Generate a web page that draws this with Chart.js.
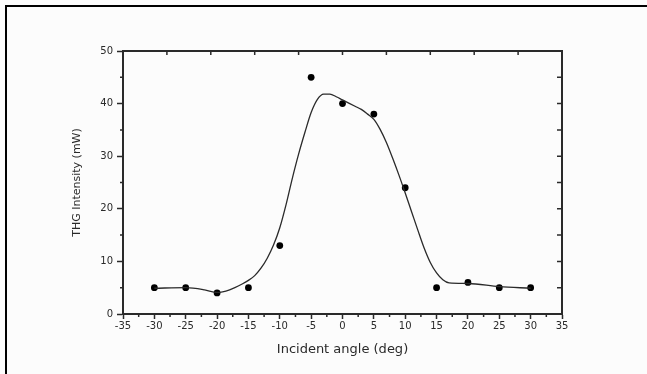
<!DOCTYPE html>
<html>
<head>
<meta charset="utf-8">
<script src="https://cdn.jsdelivr.net/npm/chart.js@4.4.0/dist/chart.umd.min.js"></script>
<style>
  html, body { margin: 0; padding: 0; background: #fcfcfc; }
  #wrap { position: relative; width: 647px; height: 374px; overflow: hidden; }
  #frame { position: absolute; left: 5px; top: 5px; width: 700px; height: 400px;
           border-top: 2px solid #000; border-left: 2px solid #000; pointer-events: none; }
</style>
</head>
<body>
<div id="wrap">
  <canvas id="thgChart" width="647" height="374"></canvas>
  <div id="frame"></div>
</div>
<script>
// measured points
const angles = [-30, -25, -20, -15, -10, -5, 0, 5, 10, 15, 20, 25, 30];
const intensity = [5, 5, 4, 5, 13, 45, 40, 38, 24, 5, 6, 5, 5];

// fitted curve
const fitAngles = [-30, -25, -22, -20, -18, -16, -15, -14, -13, -12, -11, -10, -9, -8, -7, -6, -5, -4, -3, -2, -1, 0, 1, 2, 3, 4, 5, 6, 7, 8, 9, 10, 11, 12, 13, 14, 15, 16, 17, 20, 25, 30];
const fitIntensity = [4.9, 5.0, 4.6, 4.1, 4.6, 5.7, 6.4, 7.3, 8.7, 10.6, 13.1, 16.4, 20.8, 25.8, 30.4, 34.5, 38.3, 40.8, 41.8, 41.8, 41.3, 40.7, 40.1, 39.5, 38.9, 38.0, 37.0, 35.1, 32.6, 29.6, 26.4, 23.0, 19.5, 16.0, 12.6, 9.8, 7.8, 6.5, 5.9, 5.8, 5.2, 4.9];

const xTitle = 'Incident angle (deg)';
const yTitle = 'THG Intensity (mW)';

const ink = '#2a2a2a';
const tickFont = { family: 'DejaVu Sans', size: 10 };

// frame, minor ticks and mirrored ticks on top/right
const frameTicks = {
  id: 'frameTicks',
  afterDraw(chart) {
    const { ctx, chartArea: a, scales: { x, y } } = chart;
    ctx.save();
    ctx.strokeStyle = ink;
    ctx.lineWidth = 2;
    ctx.beginPath();
    ctx.moveTo(a.left, a.top);
    ctx.lineTo(a.right, a.top);
    ctx.lineTo(a.right, a.bottom);
    ctx.stroke();

    ctx.lineWidth = 1.5;
    ctx.beginPath();
    for (let v = -32.5; v < 35; v += 5) {
      const px = x.getPixelForValue(v);
      ctx.moveTo(px, a.bottom);
      ctx.lineTo(px, a.bottom + 3);
    }
    for (let v = 5; v < 50; v += 10) {
      const py = y.getPixelForValue(v);
      ctx.moveTo(a.left, py);
      ctx.lineTo(a.left - 3, py);
    }
    for (let v = -28; v < 35; v += 7) {
      const px = x.getPixelForValue(v);
      ctx.moveTo(px, a.top);
      ctx.lineTo(px, a.top + 4);
    }
    for (let v = 5; v < 50; v += 5) {
      const py = y.getPixelForValue(v);
      ctx.moveTo(a.right, py);
      ctx.lineTo(a.right - 5, py);
    }
    ctx.stroke();
    ctx.restore();
  }
};

new Chart(document.getElementById('thgChart'), {
  type: 'line',
  data: {
    datasets: [
      {
        label: 'fit',
        data: fitAngles.map((a, i) => ({ x: a, y: fitIntensity[i] })),
        borderColor: ink,
        borderWidth: 1.3,
        pointRadius: 0,
        cubicInterpolationMode: 'monotone',
        fill: false
      },
      {
        label: 'data',
        data: angles.map((a, i) => ({ x: a, y: intensity[i] })),
        showLine: false,
        pointRadius: 3.4,
        pointBackgroundColor: '#000',
        pointBorderColor: '#000',
        pointBorderWidth: 0
      }
    ]
  },
  options: {
    responsive: false,
    animation: false,
    layout: { padding: { top: 51, right: 85, bottom: 0, left: 0 } },
    plugins: {
      legend: { display: false },
      tooltip: { enabled: false }
    },
    scales: {
      x: {
        type: 'linear',
        min: -35,
        max: 35,
        afterFit(scale) { scale.height = 60; },
        ticks: { stepSize: 5, color: ink, font: tickFont, padding: 1, maxRotation: 0 },
        grid: { drawOnChartArea: false, tickLength: 5, tickColor: ink, tickWidth: 1.5 },
        border: { color: ink, width: 2 },
        title: {
          display: true,
          text: xTitle,
          color: ink,
          font: { family: 'DejaVu Sans', size: 13 },
          padding: { top: 0, bottom: 17 }
        }
      },
      y: {
        type: 'linear',
        min: 0,
        max: 50,
        afterFit(scale) { scale.width = 123; },
        ticks: { stepSize: 10, color: ink, font: tickFont, padding: 4 },
        grid: { drawOnChartArea: false, tickLength: 6, tickColor: ink, tickWidth: 1.5 },
        border: { color: ink, width: 2 },
        title: {
          display: true,
          text: yTitle,
          color: ink,
          font: { family: 'DejaVu Sans', size: 11 },
          padding: { top: 71, bottom: 0 }
        }
      }
    }
  },
  plugins: [frameTicks]
});
</script>
</body>
</html>
